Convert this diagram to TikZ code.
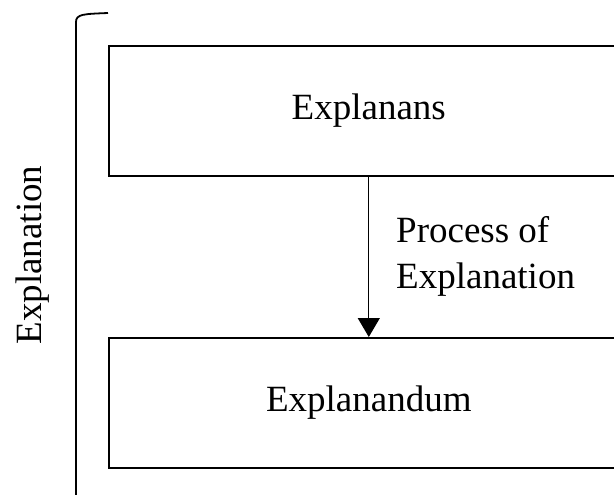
\documentclass[tikz,border=0pt]{standalone}
\usepackage{fontspec}
\setmainfont{Liberation Serif}
\usetikzlibrary{arrows.meta, positioning}

\begin{document}
\begin{tikzpicture}[x=1pt, y=-1pt,
    stagebox/.style={rectangle, draw, line width=1.6pt, minimum width=520pt, minimum height=130pt, inner sep=0pt, font=\fontsize{37}{46}\selectfont},
    lbl/.style={inner sep=0pt, align=left, font=\fontsize{37}{46}\selectfont},
    arr/.style={-{Triangle[length=19pt, width=22pt]}, line width=1.3pt}]
    \useasboundingbox (0,0) rectangle (614,495);
    \clip (0,0) rectangle (614,495);
    % Boxes
    \node[stagebox, anchor=north west] (explanans) at (108,45) {Explanans};
    \node[stagebox, anchor=north west] (explanandum) at (108,337) {Explanandum};
    % Arrow
    \draw[arr] (explanans.south) -- (explanandum.north);
    \node[lbl, anchor=west] (process) at (396,256) {Process of\\Explanation};
    % Bracket
    \coordinate (btop) at (108,13);
    \coordinate (bbot) at (76,500);
    \draw[line width=1.8pt] (btop) .. controls (84,14) and (76,14) .. (76,22) -- (bbot);
    \node[lbl, rotate=90] (expl) at (33,255) {Explanation};
\end{tikzpicture}
\end{document}
